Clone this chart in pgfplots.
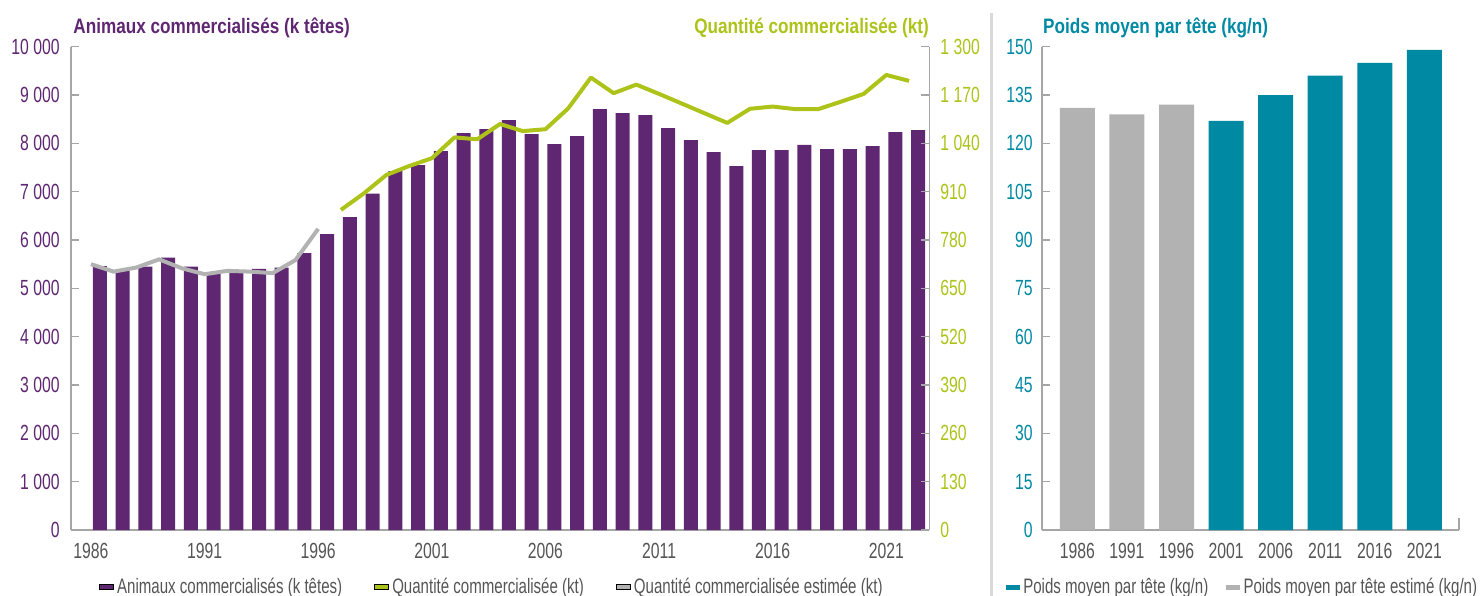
\documentclass[border=0pt]{standalone}
\usepackage{fontspec}
\setmainfont{Liberation Sans}[FakeStretch=0.72]
\newfontfamily\titlefont{Liberation Sans}[FakeStretch=0.82]
\usepackage{pgfplots}
\pgfplotsset{compat=1.18}
\definecolor{purpleC}{HTML}{5F2672}
\definecolor{greenC}{HTML}{AEC319}
\definecolor{tealC}{HTML}{0089A3}
\definecolor{greyB}{HTML}{B2B2B2}
\definecolor{axisgrey}{HTML}{A6A6A6}
\definecolor{labgrey}{HTML}{555555}
\definecolor{sepgrey}{HTML}{D9D9D9}
\newcommand{\ticklab}{\fontsize{11}{13}\selectfont}
\newcommand{\leglab}{\fontsize{10.5}{12}\selectfont}
\newcommand{\titlab}{\titlefont\bfseries\fontsize{10.5}{12}\selectfont}
\pgfplotsset{
  base/.style={
    anchor=south west, scale only axis, height=241.65bp, clip=false,
    axis line style={draw=axisgrey,line width=0.8bp},
    tick align=inside, major tick length=4bp,
    y tick style={draw=axisgrey,line width=0.8bp},
    x tick style={draw=none},
    tick label style={font=\ticklab},
    xticklabel style={text=labgrey,yshift=1bp},
    scaled y ticks=false,
    /pgf/number format/assume math mode=true,
  },
  swatch/.style={
    legend image code/.code={\fill[##1] (0bp,-1.25bp) rectangle (7bp,1.25bp);\path (7.6bp,0);},
  },
}
\begin{document}
\begin{tikzpicture}
\useasboundingbox (0,0) rectangle (740bp,298bp);
% left panel: heads (bars)
\begin{axis}[base,
  at={(35.35bp,33bp)}, width=429.3bp,
  xmin=1985.11, xmax=2022.89, ymin=0, ymax=10000,
  axis x line*=bottom, axis y line*=left,
  xtick={1986,1991,...,2021},
  xticklabels={1986,1991,1996,2001,2006,2011,2016,2021},
  ytick={0,1000,...,10000},
  yticklabels={0,1 000,2 000,3 000,4 000,5 000,6 000,7 000,8 000,9 000,10 000},
  yticklabel style={text=purpleC,xshift=-2bp},
  ybar, bar width=7bp, swatch,
  legend style={draw=none,fill=none,inner sep=0pt,font=\leglab,text=labgrey,
    at={(axis description cs:0,0)},anchor=west,xshift=14bp,yshift=-28.5bp,
    nodes={inner sep=1bp},
    /tikz/every even column/.append style={column sep=15bp}},
  legend columns=3,
]
\addplot[fill=purpleC,draw=none,forget plot] coordinates {
(1986,5462) (1987,5370) (1988,5450) (1989,5634) (1990,5450) (1991,5310)
(1992,5365) (1993,5405) (1994,5430) (1995,5730) (1996,6124) (1997,6476)
(1998,6959) (1999,7428) (2000,7552) (2001,7841) (2002,8214) (2003,8297)
(2004,8483) (2005,8193) (2006,7986) (2007,8152) (2008,8710) (2009,8628)
(2010,8586) (2011,8317) (2012,8069) (2013,7821) (2014,7531) (2015,7862)
(2016,7862) (2017,7966) (2018,7883) (2019,7883) (2020,7945) (2021,8234)
(2022,8276)};
\addlegendimage{fill=purpleC}
\addlegendentry{Animaux commercialisés (k têtes)}
\addlegendimage{fill=greenC}
\addlegendentry{Quantité commercialisée (kt)}
\addlegendimage{fill=greyB}
\addlegendentry{Quantité commercialisée estimée (kt)}
\end{axis}
% left panel: tonnage (lines, right axis)
\begin{axis}[base,
  at={(35.35bp,33bp)}, width=429.3bp,
  xmin=1985.11, xmax=2022.89, ymin=0, ymax=1300,
  axis x line=none, axis y line*=right,
  ytick={0,130,...,1300},
  yticklabels={0,130,260,390,520,650,780,910,1 040,1 170,1 300},
  yticklabel style={text=greenC,xshift=2bp},
]
\addplot[greyB,line width=2bp,line join=round] coordinates {
(1986,715) (1987,695) (1988,706) (1989,728) (1990,704) (1991,688)
(1992,697) (1993,695) (1994,691) (1995,726) (1996,810)};
\addplot[greenC,line width=2bp,line join=round] coordinates {
(1997,861) (1998,905) (1999,955) (2000,979) (2001,1000) (2002,1056)
(2003,1051) (2004,1092) (2005,1073) (2006,1078) (2007,1134) (2008,1217)
(2009,1175) (2010,1198) (2011,1173) (2012,1147) (2013,1121) (2014,1095)
(2015,1133) (2016,1139) (2017,1132) (2018,1132) (2019,1152) (2020,1173)
(2021,1224) (2022,1208)};
\end{axis}
% right panel: mean weight
\begin{axis}[base,
  at={(520.85bp,33bp)}, width=208.65bp,
  xmin=-0.72, xmax=7.70, ymin=0, ymax=150,
  axis x line*=bottom, axis y line*=left,
  xtick={0,...,7},
  xticklabels={1986,1991,1996,2001,2006,2011,2016,2021},
  ytick={0,15,...,150},
  yticklabels={0,15,30,45,60,75,90,105,120,135,150},
  yticklabel style={text=tealC,xshift=-1bp},
  ybar, bar width=17.5bp, bar shift=0pt, swatch,
  legend style={draw=none,fill=none,inner sep=0pt,font=\leglab,text=labgrey,
    at={(axis description cs:0,0)},anchor=west,xshift=-18bp,yshift=-28.5bp,
    nodes={inner sep=1bp},
    /tikz/every even column/.append style={column sep=8bp}},
  legend columns=2,
]
\addplot[fill=tealC,draw=none] coordinates {(3,127) (4,135) (5,141) (6,145) (7,149)};
\addlegendentry{Poids moyen par tête (kg/n)}
\addplot[fill=greyB,draw=none] coordinates {(0,131) (1,129) (2,132)};
\addlegendentry{Poids moyen par tête estimé (kg/n)}
\draw[axisgrey,line width=0.8bp] (rel axis cs:1,0) -- ++(0pt,6bp);
\end{axis}
\draw[sepgrey,line width=1.3bp] (495.85bp,0) -- (495.85bp,291.5bp);
\node[anchor=base west,text=purpleC,font=\titlab,inner sep=0] at (36.5bp,281.35bp) {Animaux commercialisés (k têtes)};
\node[anchor=base east,text=greenC,font=\titlab,inner sep=0] at (464.65bp,281.35bp) {Quantité commercialisée (kt)};
\node[anchor=base west,text=tealC,font=\titlab,inner sep=0] at (521.35bp,281.35bp) {Poids moyen par tête (kg/n)};
\end{tikzpicture}
\end{document}
